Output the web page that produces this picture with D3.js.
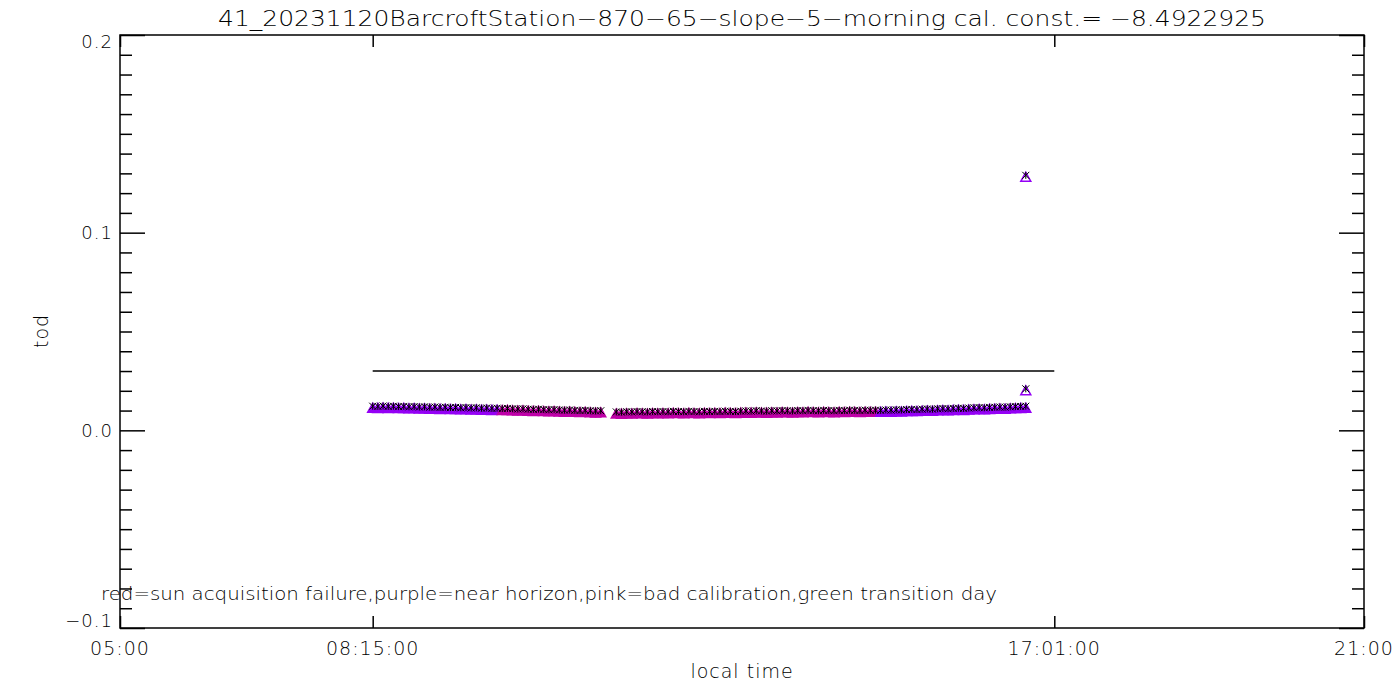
<!DOCTYPE html>
<html>
<head>
<meta charset="utf-8">
<script src="https://cdn.jsdelivr.net/npm/d3@7"></script>
<style>
  html, body { margin: 0; padding: 0; background: #fff; }
  text { font-family: "DejaVu Sans", sans-serif; font-weight: 200; fill: #000; }
</style>
</head>
<body>
<svg id="chart" width="1400" height="700"></svg>
<script>
// ---------- data ----------
const title = "41_20231120BarcroftStation\u2212870\u221265\u2212slope\u22125\u2212morning cal. const.= \u22128.4922925";
const xLabel = "local time";
const yLabel = "tod";
const legendText = "red=sun acquisition failure,purple=near horizon,pink=bad calibration,green transition day";

const xDomain = ["05:00", "21:00"];
const xTickTimes = ["05:00", "08:15", "17:01", "21:00"];
const xTickLabels = ["05:00", "08:15:00", "17:01:00", "21:00"];
const yDomain = [-0.1, 0.2];
const yTicks = [-0.1, 0.0, 0.1, 0.2];
const yTickLabels = ["\u22120.1", "0.0", "0.1", "0.2"];

const times = [
  "08:15","08:19","08:23","08:27","08:31","08:35","08:39","08:43","08:47","08:51",
  "08:55","08:59","09:03","09:07","09:11","09:15","09:19","09:23","09:27","09:31",
  "09:35","09:39","09:43","09:47","09:51","09:55","09:59","10:03","10:07","10:11",
  "10:15","10:19","10:23","10:27","10:31","10:35","10:39","10:43","10:47","10:51",
  "10:55","10:59","11:03","11:07","11:11",
  "11:23","11:27","11:31","11:35","11:39","11:43","11:47","11:51","11:55","11:59",
  "12:03","12:07","12:11","12:15","12:19","12:23","12:27","12:31","12:35","12:39",
  "12:43","12:47","12:51","12:55","12:59","13:03","13:07","13:11","13:15","13:19",
  "13:23","13:27","13:31","13:35","13:39","13:43","13:47","13:51","13:55","13:59",
  "14:03","14:07","14:11","14:15","14:19","14:23","14:27","14:31","14:35","14:39",
  "14:43","14:47","14:51","14:55","14:59","15:03","15:07","15:11","15:15","15:19",
  "15:23","15:27","15:31","15:35","15:39","15:43","15:47","15:51","15:55","15:59",
  "16:03","16:07","16:11","16:15","16:19","16:23","16:27","16:31","16:35","16:39"
];
const values = [
  0.0122,0.0121,0.0123,0.0121,0.0122,0.0120,0.0121,0.0119,0.0120,0.0118,
  0.0119,0.0117,0.0118,0.0116,0.0117,0.0115,0.0116,0.0114,0.0115,0.0113,
  0.0114,0.0112,0.0113,0.0111,0.0112,0.0110,0.0111,0.0109,0.0108,0.0109,
  0.0107,0.0106,0.0107,0.0105,0.0104,0.0105,0.0103,0.0102,0.0103,0.0101,
  0.0100,0.0101,0.0099,0.0098,0.0099,
  0.0093,0.0092,0.0094,0.0093,0.0095,0.0094,0.0093,0.0095,0.0094,0.0095,
  0.0094,0.0096,0.0095,0.0094,0.0096,0.0095,0.0094,0.0096,0.0095,0.0096,
  0.0095,0.0097,0.0096,0.0095,0.0097,0.0098,0.0097,0.0099,0.0098,0.0097,
  0.0099,0.0098,0.0100,0.0099,0.0098,0.0100,0.0099,0.0101,0.0100,0.0099,
  0.0101,0.0100,0.0099,0.0101,0.0100,0.0102,0.0101,0.0100,0.0102,0.0101,
  0.0102,0.0101,0.0103,0.0102,0.0104,0.0103,0.0105,0.0106,0.0105,0.0107,
  0.0108,0.0107,0.0109,0.0110,0.0109,0.0111,0.0112,0.0111,0.0113,0.0114,
  0.0115,0.0114,0.0116,0.0117,0.0118,0.0117,0.0119,0.0120,0.0121,0.0122
];
// points flagged as bad calibration (pink) lie between these times; the rest are near horizon (purple)
const pinkStart = "09:55";
const pinkEnd = "14:43";

const outlierTimes = ["16:39", "16:39"];
const outlierValues = [0.129, 0.021];

const refLineTimes = ["08:15", "17:01"];
const refLineValue = 0.03;

const colors = { purple: "#9400f5", pink: "#bf00a8" };

// ---------- layout ----------
const M = { left: 120, right: 1364, top: 35, bottom: 628 };
const svg = d3.select("#chart");
const toMin = s => { const [h, m] = s.split(":").map(Number); return h * 60 + m; };

const x = d3.scaleLinear().domain(xDomain.map(toMin)).range([M.left, M.right]);
const y = d3.scaleLinear().domain(yDomain).range([M.bottom, M.top]);

const majorLen = 25, minorLen = 12, xTickLen = 12;
const minorTicks = d3.range(-0.1, 0.2001, 0.01).map(v => +v.toFixed(3))
  .filter(v => !yTicks.some(t => Math.abs(t - v) < 1e-6));

function styleAxis(g) {
  g.select(".domain").remove();
  g.selectAll("line").attr("stroke", "#000").attr("stroke-width", 1.5);
  g.selectAll("text").remove();
}

// y axes (left + right)
svg.append("g").attr("transform", `translate(${M.left},0)`)
  .call(d3.axisLeft(y).tickValues(yTicks).tickSize(-majorLen)).call(styleAxis);
svg.append("g").attr("transform", `translate(${M.left},0)`)
  .call(d3.axisLeft(y).tickValues(minorTicks).tickSize(-minorLen)).call(styleAxis);
svg.append("g").attr("transform", `translate(${M.right},0)`)
  .call(d3.axisRight(y).tickValues(yTicks).tickSize(-majorLen)).call(styleAxis);
svg.append("g").attr("transform", `translate(${M.right},0)`)
  .call(d3.axisRight(y).tickValues(minorTicks).tickSize(-minorLen)).call(styleAxis);

// x axes (bottom + top)
const xTickVals = xTickTimes.map(toMin);
svg.append("g").attr("transform", `translate(0,${M.bottom})`)
  .call(d3.axisBottom(x).tickValues(xTickVals).tickSize(-xTickLen)).call(styleAxis);
svg.append("g").attr("transform", `translate(0,${M.top})`)
  .call(d3.axisTop(x).tickValues(xTickVals).tickSize(-xTickLen)).call(styleAxis);

// frame
svg.append("rect").attr("x", M.left).attr("y", M.top)
  .attr("width", M.right - M.left).attr("height", M.bottom - M.top)
  .attr("fill", "none").attr("stroke", "#000").attr("stroke-width", 1.5);

// tick labels
svg.append("g").selectAll("text").data(yTicks).join("text")
  .attr("x", M.left - 7)
  .attr("y", d => Math.min(M.bottom - 7, Math.max(M.top + 7, y(d))))
  .attr("dy", "0.36em")
  .attr("text-anchor", "end")
  .attr("font-size", 18)
  .attr("letter-spacing", 1)
  .text((d, i) => yTickLabels[i]);

svg.append("g").selectAll("text").data(xTickVals).join("text")
  .attr("x", d => x(d))
  .attr("y", M.bottom + 20)
  .attr("dy", "0.36em")
  .attr("text-anchor", "middle")
  .attr("font-size", 19)
  .attr("letter-spacing", 1)
  .text((d, i) => xTickLabels[i]);

// titles
svg.append("text").attr("x", (M.left + M.right) / 2).attr("y", 26)
  .attr("text-anchor", "middle").attr("font-size", 22)
  .attr("textLength", 1048).attr("lengthAdjust", "spacingAndGlyphs")
  .text(title);
svg.append("text").attr("x", (M.left + M.right) / 2).attr("y", 678)
  .attr("text-anchor", "middle").attr("font-size", 19)
  .attr("letter-spacing", 1).text(xLabel);
svg.append("text").attr("transform", `translate(48,331) rotate(-90)`)
  .attr("text-anchor", "middle").attr("font-size", 19)
  .attr("letter-spacing", 1).text(yLabel);

// reference line
svg.append("line")
  .attr("x1", x(toMin(refLineTimes[0]))).attr("x2", x(toMin(refLineTimes[1])))
  .attr("y1", y(refLineValue)).attr("y2", y(refLineValue))
  .attr("stroke", "#000").attr("stroke-width", 1.5);

// points
const pts = times.map((t, i) => {
  const m = toMin(t);
  const c = (m >= toMin(pinkStart) && m <= toMin(pinkEnd)) ? colors.pink : colors.purple;
  return { m, v: values[i], c };
}).concat(outlierTimes.map((t, i) => ({ m: toMin(t), v: outlierValues[i], c: colors.purple, outlier: true })));

const tri = "M0,-3 L5,6 L-5,6 Z";
const star = "M0,-3.5 L0,3.5 M-3.5,-3.5 L3.5,3.5 M-3.5,3.5 L3.5,-3.5";

const gp = svg.append("g");
gp.selectAll("path.tri").data(pts).join("path").attr("class", "tri")
  .attr("transform", d => `translate(${x(d.m)},${y(d.v)})`)
  .attr("d", tri)
  .attr("fill", d => d.outlier ? "none" : d.c)
  .attr("stroke", d => d.c).attr("stroke-width", 1.5);
gp.selectAll("path.star").data(pts).join("path").attr("class", "star")
  .attr("transform", d => `translate(${x(d.m)},${y(d.v)})`)
  .attr("d", star)
  .attr("fill", "none").attr("stroke", "#000").attr("stroke-width", 1);

// legend note
svg.append("text").attr("x", 101).attr("y", 600)
  .attr("font-size", 18)
  .attr("textLength", 896).attr("lengthAdjust", "spacingAndGlyphs")
  .text(legendText);
</script>
</body>
</html>
